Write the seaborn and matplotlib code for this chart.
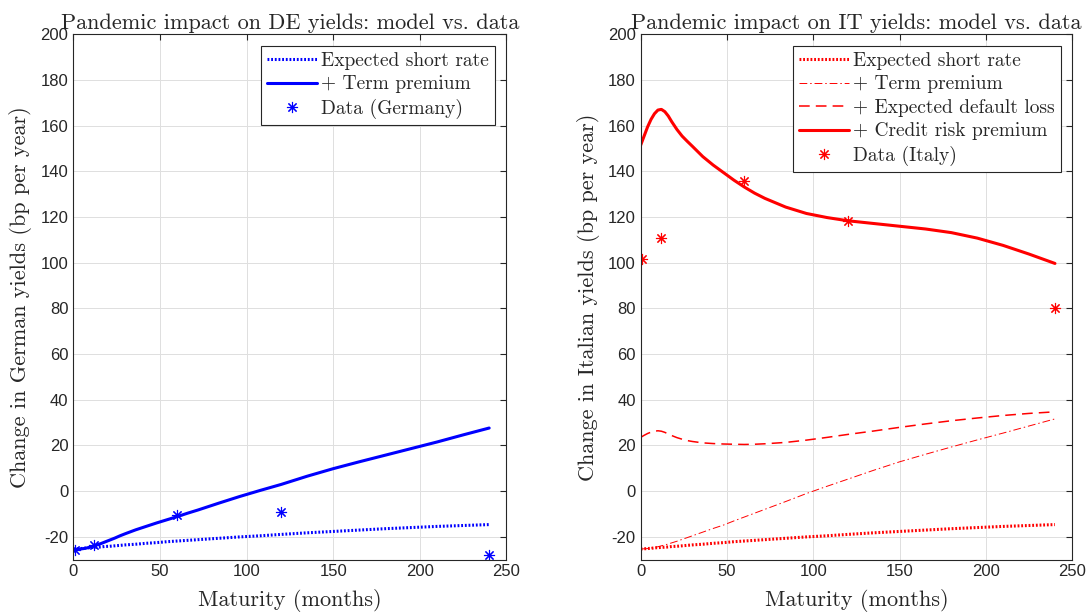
import seaborn as sns
import numpy as np
import pandas as pd
import matplotlib.pyplot as plt

# maturities (months) for the model curves
maturity = [0, 2, 4, 6, 8, 10, 12, 14, 16, 18, 21, 24, 27, 30, 36, 42, 48, 54, 60,
            66, 72, 84, 96, 108, 120, 135, 150, 165, 180, 195, 210, 225, 240]

short_rate = [-25.4, -25.3, -25.2, -25.1, -24.9, -24.8, -24.7, -24.6, -24.5, -24.3,
              -24.2, -24.0, -23.8, -23.6, -23.3, -22.9, -22.6, -22.2, -21.9,
              -21.6, -21.3, -20.7, -20.1, -19.6, -19.0, -18.3, -17.7, -17.1,
              -16.5, -16.0, -15.5, -15.1, -14.7]
de_term_prem = [-25.5, -25.5, -25.4, -25.2, -24.9, -24.5, -24.0, -23.5, -23.0, -22.4,
                -21.5, -20.6, -19.6, -18.7, -17.0, -15.5, -14.0, -12.6, -11.2,
                -9.7, -8.3, -5.3, -2.4, 0.3, 2.9, 6.5, 9.8, 12.8,
                15.7, 18.6, 21.5, 24.6, 27.6]
it_term_prem = [-25.4, -25.3, -25.2, -25.0, -24.7, -24.4, -24.0, -23.6, -23.2, -22.7,
                -22.0, -21.2, -20.4, -19.6, -18.0, -16.4, -14.9, -13.1, -11.4,
                -9.7, -8.0, -4.6, -1.1, 2.1, 5.2, 9.1, 12.8, 16.1,
                19.3, 22.4, 25.4, 28.5, 31.6]
it_default_loss = [23.5, 24.4, 25.2, 25.8, 26.2, 26.4, 26.2, 25.7, 25.0, 24.3,
                   23.4, 22.7, 22.1, 21.7, 21.1, 20.8, 20.6, 20.5, 20.4,
                   20.5, 20.7, 21.3, 22.3, 23.5, 24.8, 26.3, 27.9, 29.4,
                   30.8, 32.0, 33.1, 34.0, 34.7]
it_credit_prem = [151.5, 155.5, 159.5, 162.8, 165.3, 166.9, 167.2, 166.2, 164.3, 161.8,
                  158.4, 155.5, 153.2, 151.0, 146.5, 142.8, 139.5, 136.2, 133.2,
                  130.5, 128.2, 124.4, 121.6, 119.8, 118.4, 117.2, 116.0, 114.8,
                  113.2, 110.8, 107.6, 103.8, 99.7]

# observed yield changes
data_maturity = [1, 12, 60, 120, 240]
de_data = [-26.0, -23.8, -10.6, -9.2, -28.2]
it_data = [101.8, 111.0, 135.8, 118.4, 80.4]

sns.set_style("white")
plt.rcParams['axes.unicode_minus'] = False
serif = 'cmr10'
tickfont = 'Liberation Sans'
dark = '#262626'

fig = plt.figure(figsize=(10.89, 6.16), dpi=100)
ax1 = fig.add_axes([0.0673, 0.0917, 0.3978, 0.8523])
ax2 = fig.add_axes([0.5883, 0.0917, 0.3963, 0.8523])

asterisk = (8, 2, 0)

sns.lineplot(x=maturity, y=short_rate, ax=ax1, color='blue', linewidth=2.2,
             linestyle=(0, (0.6, 0.6)), label='Expected short rate')
sns.lineplot(x=maturity, y=de_term_prem, ax=ax1, color='blue', linewidth=2.2,
             label='+ Term premium')
ax1.plot(data_maturity, de_data, linestyle='none', marker=asterisk, color='blue',
         markersize=8, markeredgewidth=0.8, label='Data (Germany)')

sns.lineplot(x=maturity, y=short_rate, ax=ax2, color='red', linewidth=2.2,
             linestyle=(0, (0.6, 0.6)), label='Expected short rate')
sns.lineplot(x=maturity, y=it_term_prem, ax=ax2, color='red', linewidth=0.7,
             linestyle=(0, (8, 3, 1.5, 3)), label='+ Term premium')
sns.lineplot(x=maturity, y=it_default_loss, ax=ax2, color='red', linewidth=1.1,
             linestyle=(0, (7, 4)), label='+ Expected default loss')
sns.lineplot(x=maturity, y=it_credit_prem, ax=ax2, color='red', linewidth=2.2,
             label='+ Credit risk premium')
ax2.plot(data_maturity, it_data, linestyle='none', marker=asterisk, color='red',
         markersize=8, markeredgewidth=0.8, label='Data (Italy)')

titles = ['Pandemic impact on DE yields: model vs. data',
          'Pandemic impact on IT yields: model vs. data']
ylabels = ['Change in German yields (bp per year)',
           'Change in Italian yields (bp per year)']

for ax, title, ylab in zip([ax1, ax2], titles, ylabels):
    ax.set_xlim(0, 250)
    ax.set_ylim(-30, 200)
    ax.set_xticks(range(0, 251, 50))
    ax.set_yticks(range(-20, 201, 20))
    ax.grid(True, color='#dfdfdf', linewidth=0.7)
    ax.set_axisbelow(True)
    for s in ax.spines.values():
        s.set_color(dark)
        s.set_linewidth(0.8)
    ax.tick_params(direction='in', length=4.5, width=0.8, color=dark,
                   labelcolor=dark, labelsize=12, top=True, right=True)
    for lab in ax.get_xticklabels() + ax.get_yticklabels():
        lab.set_fontfamily(tickfont)
    ax.set_title(title, fontfamily=serif, fontsize=16, pad=4)
    ax.set_xlabel('Maturity (months)', fontfamily=serif, fontsize=16, labelpad=7)
    ax.set_ylabel(ylab, fontfamily=serif, fontsize=16, labelpad=6)
    leg = ax.legend(loc='upper right', prop={'family': serif, 'size': 14},
                    handlelength=2.6, handletextpad=0.2, borderpad=0.3,
                    labelspacing=0.28, fancybox=False, framealpha=1,
                    edgecolor=dark, borderaxespad=0.6)
    leg.get_frame().set_linewidth(0.8)

fig.savefig('out.png', dpi=100)
